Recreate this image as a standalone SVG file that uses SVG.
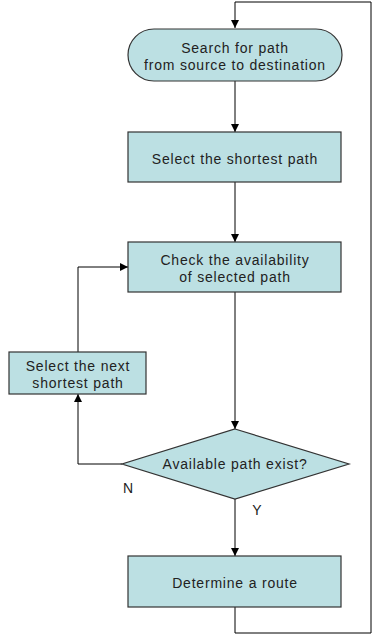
<svg xmlns="http://www.w3.org/2000/svg" width="377" height="634" viewBox="0 0 377 634">
<defs>
<marker id="ah" markerWidth="8" markerHeight="8" viewBox="0 0 8 8" refX="8" refY="4" orient="auto" markerUnits="userSpaceOnUse">
<path d="M0,0 L8,4 L0,8 z" fill="#000"/>
</marker>
</defs>
<style>
.n{fill:#bce0e3;stroke:#333;stroke-width:1.2}
.t{font-family:"Liberation Sans",Arial,sans-serif;font-size:14px;fill:#222;text-anchor:middle;letter-spacing:0.8px}
.c{fill:none;stroke:#000;stroke-width:1}
</style>
<rect width="377" height="634" fill="#fff"/>
<g id="connectors">
<path class="c" d="M235,607 V633 H371 V2 H235 V28" marker-end="url(#ah)"/>
<path class="c" d="M235,81 V132" marker-end="url(#ah)"/>
<path class="c" d="M235,182 V242" marker-end="url(#ah)"/>
<path class="c" d="M235,292 V429" marker-end="url(#ah)"/>
<path class="c" d="M122,464 H78 V394" marker-end="url(#ah)"/>
<path class="c" d="M78,352 V267 H128" marker-end="url(#ah)"/>
<path class="c" d="M235,499 V556" marker-end="url(#ah)"/>
<text class="t" x="128" y="493" style="letter-spacing:0">N</text>
<text class="t" x="257" y="515" style="letter-spacing:0">Y</text>
</g>
<g id="search">
<rect class="n" x="128" y="29" width="214" height="52" rx="26" ry="26"/>
<text class="t" x="235" y="53">Search for path</text>
<text class="t" x="235" y="70">from source to destination</text>
</g>
<g id="shortest">
<rect class="n" x="128" y="132" width="213" height="50"/>
<text class="t" x="235" y="164">Select the shortest path</text>
</g>
<g id="check">
<rect class="n" x="128" y="242" width="213" height="50"/>
<text class="t" x="235" y="265">Check the availability</text>
<text class="t" x="235" y="282">of selected path</text>
</g>
<g id="next">
<rect class="n" x="9" y="352" width="137" height="42"/>
<text class="t" x="78" y="371">Select the next</text>
<text class="t" x="78" y="388">shortest path</text>
</g>
<g id="decision">
<polygon class="n" points="235,429 349,464 235,499 122,464"/>
<text class="t" x="235" y="469">Available path exist?</text>
</g>
<g id="route">
<rect class="n" x="128" y="556" width="213" height="51"/>
<text class="t" x="235" y="588">Determine a route</text>
</g>
</svg>
